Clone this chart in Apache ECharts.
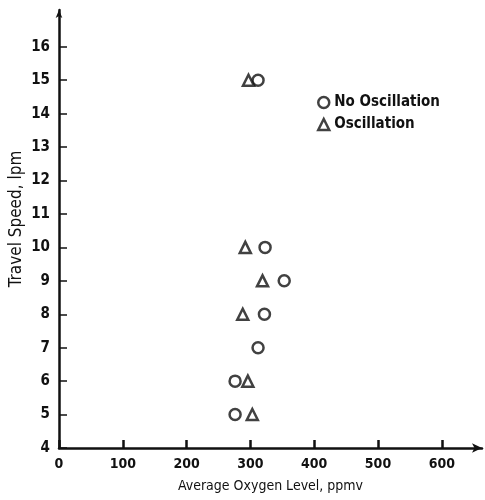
<!DOCTYPE html>
<html><head><meta charset="utf-8">
<script src="https://cdn.jsdelivr.net/npm/echarts@6/dist/echarts.min.js"></script>
<style>html,body{margin:0;padding:0;background:#fff}#c{width:485px;height:500px}</style>
</head><body><div id="c"></div>
<script>
const xTicks = [0, 100, 200, 300, 400, 500, 600];
const yTicks = [4, 5, 6, 7, 8, 9, 10, 11, 12, 13, 14, 15, 16];
const noOscX = [312, 323, 353, 322, 312, 276, 276];
const noOscY = [15, 10, 9, 8, 7, 6, 5];
const oscX = [297, 292, 319, 288, 296, 303];
const oscY = [15, 10, 9, 8, 6, 5];
const xName = 'Average Oxygen Level, ppmv';
const yName = 'Travel Speed, lpm';
const seriesNames = ['No Oscillation', 'Oscillation'];

const font = 'DejaVu Sans Condensed';
const mark = {color: '#fff', borderColor: '#111', borderWidth: 2.5};
const chart = echarts.init(document.getElementById('c'));
const pair = (xs, ys) => xs.map((x, i) => [x, ys[i]]);
chart.setOption({
  animation: false,
  grid: {left: 59, right: 3, top: 10, bottom: 52},
  legend: {
    orient: 'vertical', left: 312, top: 90, itemGap: 7, itemWidth: 11, itemHeight: 11,
    textStyle: {fontFamily: font, fontWeight: 'bold', fontSize: 15, color: '#111'},
    data: [{name: seriesNames[0], icon: 'circle', itemStyle: mark},
           {name: seriesNames[1], icon: 'triangle', itemStyle: mark}]
  },
  graphic: [{
    type: 'text', x: 17, y: 219, rotation: Math.PI / 2,
    style: {text: yName, fontFamily: font, fontSize: 17, fill: '#111',
            align: 'center', verticalAlign: 'middle'}
  }],
  xAxis: {
    type: 'value', min: 0, max: 663,
    name: xName, nameLocation: 'middle', nameGap: 31,
    nameTextStyle: {fontFamily: font, fontSize: 14, color: '#111'},
    splitLine: {show: false},
    axisLine: {lineStyle: {color: '#111', width: 2.5}, symbol: ['none', 'arrow'], symbolSize: [7, 10]},
    axisTick: {inside: true, length: 8, lineStyle: {width: 2.5, color: '#111'}, customValues: xTicks},
    axisLabel: {customValues: xTicks, fontFamily: font, fontWeight: 'bold', fontSize: 14, color: '#111', margin: 9}
  },
  yAxis: {
    type: 'value', min: 4, max: 17.1,
    splitLine: {show: false},
    axisLine: {lineStyle: {color: '#111', width: 2.5}, symbol: ['none', 'arrow'], symbolSize: [5, 8]},
    axisTick: {inside: true, length: 8, lineStyle: {width: 1.5, color: '#111'}, customValues: yTicks},
    axisLabel: {customValues: yTicks, fontFamily: font, fontWeight: 'bold', fontSize: 15, color: '#111', margin: 9}
  },
  series: [
    {name: seriesNames[0], type: 'scatter', symbol: 'circle', symbolSize: 11,
     itemStyle: mark, data: pair(noOscX, noOscY)},
    {name: seriesNames[1], type: 'scatter', symbol: 'triangle', symbolSize: 11,
     itemStyle: mark, data: pair(oscX, oscY)}
  ]
});
</script></body></html>
